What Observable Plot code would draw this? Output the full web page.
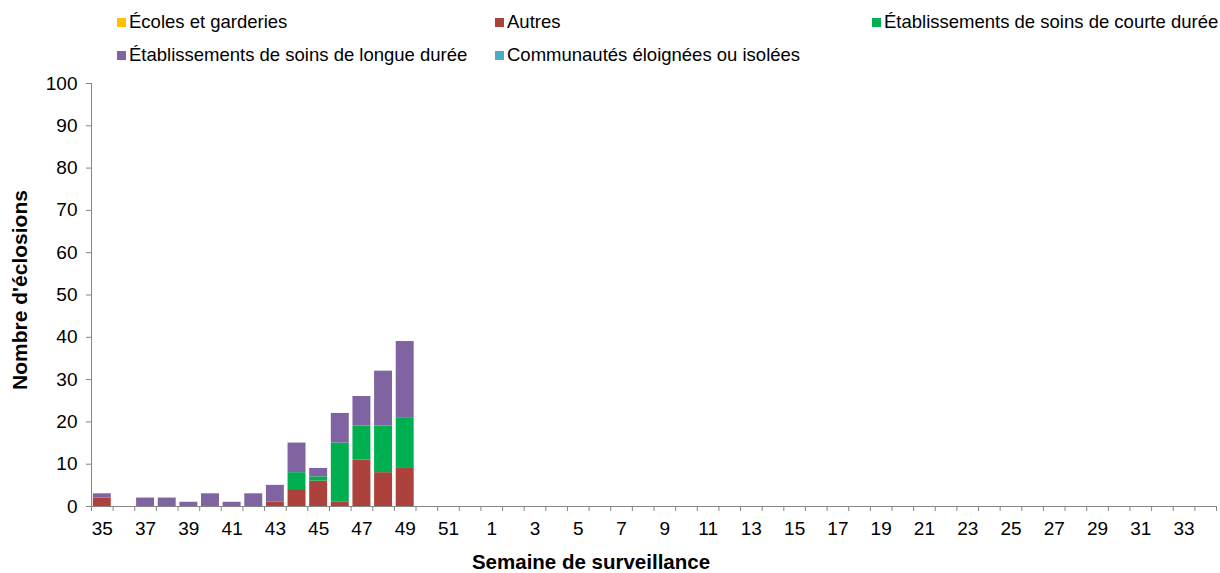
<!DOCTYPE html>
<html><head><meta charset="utf-8">
<script src="https://cdn.jsdelivr.net/npm/d3@7"></script>
<script src="https://cdn.jsdelivr.net/npm/@observablehq/plot@0.6"></script>
<style>
body{margin:0;background:#fff;font-family:"Liberation Sans",Arial,sans-serif;}
#legend{position:relative;height:70px;width:1220px;}
.item{position:absolute;display:flex;align-items:center;font-size:18.5px;color:#000;white-space:nowrap;line-height:22px;transform:translateY(-50%);}
.sw{width:9px;height:9px;margin-right:3px;flex:none;}
</style></head><body>
<div id="legend"></div><div id="chart"></div>
<script>
const weeks = ["35","36","37","38","39","40","41","42","43","44","45","46","47","48","49","50","51","52",
  "1","2","3","4","5","6","7","8","9","10","11","12","13","14","15","16","17","18","19","20",
  "21","22","23","24","25","26","27","28","29","30","31","32","33","34"];
const xTickLabels = ["35","37","39","41","43","45","47","49","51","1","3","5","7","9","11","13","15","17","19","21","23","25","27","29","31","33"];
const yTicks = [0,10,20,30,40,50,60,70,80,90,100];
const series = ["Écoles et garderies","Autres","Établissements de soins de courte durée","Établissements de soins de longue durée","Communautés éloignées ou isolées"];
const colors = ["#FFC000","#AD423D","#00B050","#8064A2","#4BACC6"];
const dataWeeks = ["35","36","37","38","39","40","41","42","43","44","45","46","47","48","49"];
const ecoles      = [0,0,0,0,0,0,0,0,0,0,0,0,0,0,0];
const autres      = [2,0,0,0,0,0,0,0,1,4,6,1,11,8,9];
const courte      = [0,0,0,0,0,0,0,0,0,4,1,14,8,11,12];
const longue      = [1,0,2,2,1,3,1,3,4,7,2,7,7,13,18];
const communautes = [0,0,0,0,0,0,0,0,0,0,0,0,0,0,0];
const xTitle = "Semaine de surveillance";
const yTitle = "Nombre d'éclosions";

const valuesBySeries = [ecoles, autres, courte, longue, communautes];
const data = [];
series.forEach((s, si) => dataWeeks.forEach((w, i) => data.push({week: w, series: s, value: valuesBySeries[si][i]})));

// legend
const legend = document.getElementById("legend");
const legendPos = [[117,22],[495,22],[872,22],[117,55],[495,55]];
series.forEach((s, i) => {
  const d = document.createElement("div");
  d.className = "item";
  d.style.left = legendPos[i][0] + "px";
  d.style.top = legendPos[i][1] + "px";
  d.innerHTML = `<span class="sw" style="background:${colors[i]}"></span><span>${s}</span>`;
  legend.appendChild(d);
});

const W = 1220, H = 503, mL = 91, mR = 4, mT = 13, mB = 67;
const step = (W - mL - mR) / weeks.length;
const gray = "#868686";

const chart = Plot.plot({
  width: W, height: H,
  marginLeft: mL, marginRight: mR, marginTop: mT, marginBottom: mB,
  style: {fontFamily: "'Liberation Sans', Arial, sans-serif", background: "#fff", color: "#000"},
  x: {type: "band", domain: weeks, paddingInner: 0.17, paddingOuter: 0.085, axis: null},
  y: {domain: [0, 100], axis: null},
  color: {domain: series, range: colors},
  marks: [
    Plot.barY(data, {x: "week", y: "value", fill: "series", order: series}),
    Plot.ruleY([0], {stroke: gray, strokeWidth: 1}),
    Plot.ruleX([weeks[0]], {dx: -step/2, stroke: gray, insetBottom: -5}),
    Plot.axisX({ticks: weeks, tickFormat: () => "", tickSize: 5, dx: step/2, stroke: gray, label: null}),
    Plot.axisX({ticks: xTickLabels, tickSize: 0, tickPadding: 15, fontSize: 19, label: null}),
    Plot.axisY({ticks: yTicks, tickSize: 5, tickPadding: 9, fontSize: 19, stroke: gray, label: null}),
    Plot.text([yTitle], {frameAnchor: "left", textAnchor: "middle", lineAnchor: "middle", dx: -71, dy: -5, rotate: -90, fontSize: 21, fontWeight: "bold"}),
    Plot.text([xTitle], {frameAnchor: "bottom", textAnchor: "middle", lineAnchor: "middle", dx: -63, dy: 56, fontSize: 20.5, fontWeight: "bold"})
  ]
});
document.getElementById("chart").appendChild(chart);
</script>
</body></html>
